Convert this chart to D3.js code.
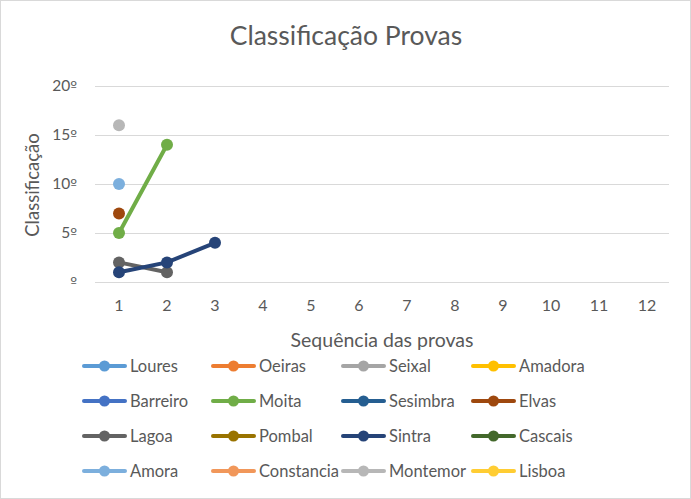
<!DOCTYPE html>
<html><head><meta charset="utf-8">
<script src="https://cdn.jsdelivr.net/npm/d3@7"></script>
<style>body{margin:0;background:#fff}svg{display:block}text{font-family:Lato,"Open Sans",sans-serif}</style>
</head><body><svg id="c" width="691" height="499"></svg>
<script>
const categories = [1,2,3,4,5,6,7,8,9,10,11,12];
const seriesNames = ["Loures","Oeiras","Seixal","Amadora","Barreiro","Moita","Sesimbra","Elvas","Lagoa","Pombal","Sintra","Cascais","Amora","Constancia","Montemor","Lisboa"];
const seriesColors = ["#5B9BD5","#ED7D31","#A5A5A5","#FFC000","#4472C4","#70AD47","#255E91","#9E480E","#636363","#997300","#264478","#43682B","#7CAFDD","#F1975A","#B7B7B7","#FFCD33"];
const seriesValues = [
  [], [], [], [], [],
  [5,14],
  [],
  [7],
  [2,1],
  [],
  [1,2,4],
  [],
  [10],
  [],
  [16],
  []
];
const yTicks = [0,5,10,15,20];
const yTickNums = ["","5","10","15","20"];

const svg = d3.select("#c");
svg.append("rect").attr("x",0.5).attr("y",0.5).attr("width",690).attr("height",498).attr("fill","#fff").attr("stroke","#D9D9D9");

const x = d3.scaleBand().domain(categories).range([95,671]);
const y = d3.scaleLinear().domain([0,20]).range([282,86]);

svg.append("text").attr("x",346).attr("y",45).attr("text-anchor","middle").attr("font-size",26.5).attr("fill","#595959").text("Classificação Provas");

svg.append("g").selectAll("line").data(yTicks).join("line")
  .attr("x1",95).attr("x2",669).attr("y1",d=>y(d)+0.5).attr("y2",d=>y(d)+0.5).attr("stroke","#D9D9D9").attr("stroke-width",1);

const yl = svg.append("g").selectAll("text").data(yTicks).join("text")
  .attr("x",77).attr("y",d=>y(d)+5).attr("text-anchor","end").attr("font-size",15.5).attr("fill","#595959");
yl.append("tspan").text((d,i)=>yTickNums[i]);
yl.append("tspan").attr("font-family","'DejaVu Sans'").attr("font-size",14.5).text("º");

svg.append("g").selectAll("text").data(categories).join("text")
  .attr("x",d=>x(d)+x.bandwidth()/2).attr("y",311).attr("text-anchor","middle").attr("font-size",16).attr("fill","#595959").text(d=>d);

svg.append("text").attr("x",382).attr("y",347).attr("text-anchor","middle").attr("font-size",19.5).attr("fill","#595959").text("Sequência das provas");
svg.append("text").attr("transform","translate(39,185) rotate(-90)").attr("text-anchor","middle").attr("font-size",18.5).attr("fill","#595959").text("Classificação");

const line = d3.line().x((d,i)=>x(categories[i])+x.bandwidth()/2).y(d=>y(d));
seriesNames.forEach((n,k)=>{
  const vals = seriesValues[k];
  if(vals.length>1) svg.append("path").attr("d",line(vals)).attr("fill","none").attr("stroke",seriesColors[k]).attr("stroke-width",4).attr("stroke-linecap","round");
  svg.append("g").selectAll("circle").data(vals).join("circle")
    .attr("cx",(d,i)=>x(categories[i])+x.bandwidth()/2).attr("cy",d=>y(d)).attr("r",6).attr("fill",seriesColors[k]);
});

const legX = [84,213,343,473], legY = [366,401,436,471];
seriesNames.forEach((n,k)=>{
  const cx = legX[k%4], cy = legY[Math.floor(k/4)];
  const g = svg.append("g");
  g.append("line").attr("x1",cx).attr("x2",cx+41).attr("y1",cy).attr("y2",cy).attr("stroke",seriesColors[k]).attr("stroke-width",4).attr("stroke-linecap","round");
  g.append("circle").attr("cx",cx+20.5).attr("cy",cy).attr("r",5.5).attr("fill",seriesColors[k]);
  g.append("text").attr("x",cx+46).attr("y",cy+6).attr("font-size",16.5).attr("fill","#595959").text(n);
});
</script></body></html>
